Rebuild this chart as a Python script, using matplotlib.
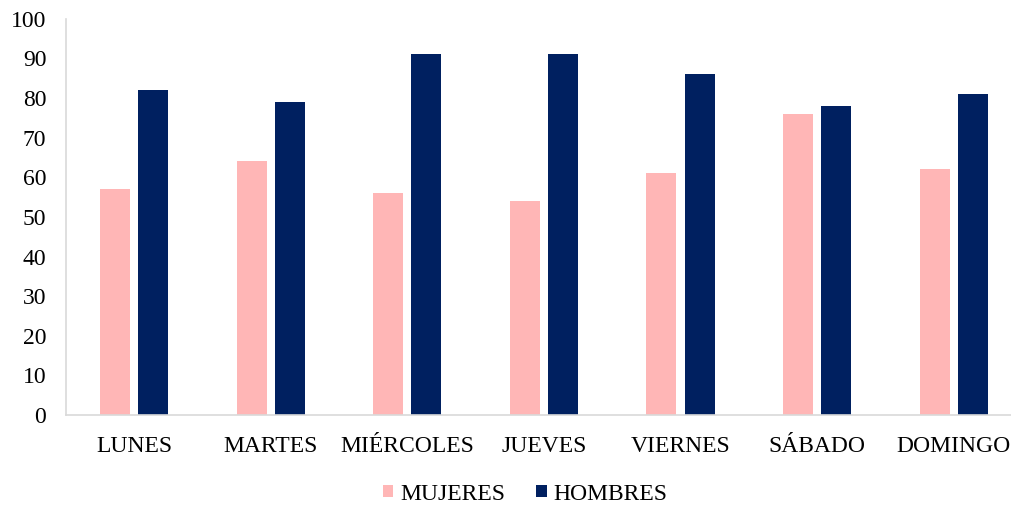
import numpy as np
import matplotlib.pyplot as plt

dias = ["LUNES", "MARTES", "MIÉRCOLES", "JUEVES", "VIERNES", "SÁBADO", "DOMINGO"]
mujeres = [57, 64, 56, 54, 61, 76, 62]
hombres = [82, 79, 91, 91, 86, 78, 81]

plt.rcParams['font.family'] = ['Liberation Serif', 'DejaVu Serif']

fig = plt.figure(figsize=(10.12, 5.08), dpi=100)
ax = fig.add_axes([0.065, 0.183, 0.945, 0.78])

x = np.arange(len(dias))
w = 0.22
ax.bar(x - 0.14, mujeres, w, color='#FFB6B6', label='MUJERES')
ax.bar(x + 0.14, hombres, w, color='#002060', label='HOMBRES')

ax.set_xlim(-0.5, 6.5)
ax.set_ylim(0, 100)
ax.set_yticks(range(0, 101, 10))
ax.set_xticks(x)
ax.set_xticklabels(dias)
ax.tick_params(axis='both', length=0, labelsize=17, colors='black')
ax.tick_params(axis='y', pad=14)
ax.tick_params(axis='x', pad=15)

for s in ['top', 'right']:
    ax.spines[s].set_visible(False)
for s in ['left', 'bottom']:
    ax.spines[s].set_color('#D9D9D9')
    ax.spines[s].set_linewidth(1.2)

fig.legend(loc='lower center', bbox_to_anchor=(0.519, -0.035), ncol=2, frameon=False,
           fontsize=17, handlelength=0.45, handleheight=0.45, handletextpad=0.3,
           columnspacing=1.3)

fig.savefig('out.png', dpi=100)
